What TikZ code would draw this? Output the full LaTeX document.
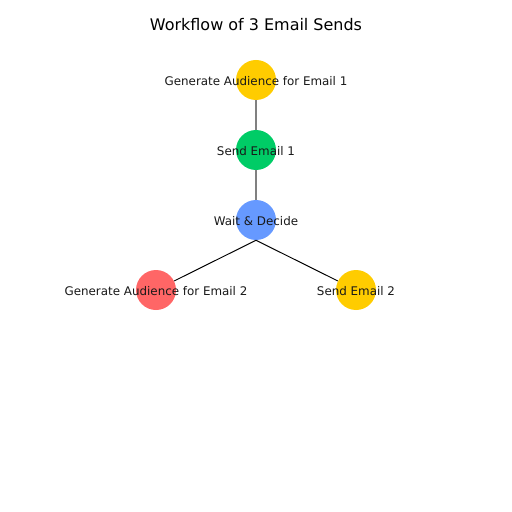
\documentclass[tikz,border=0pt]{standalone}
\usepackage{fontspec}
\setmainfont{DejaVu Sans}
\definecolor{stepyellow}{HTML}{FFCC00}
\definecolor{stepgreen}{HTML}{00CC66}
\definecolor{stepblue}{HTML}{6699FF}
\definecolor{stepred}{HTML}{FF6666}
\tikzset{
    stepdot/.style={circle, minimum size=28.8pt, inner sep=0pt},
    steptext/.style={font=\fontsize{8.56}{10}\selectfont, text=black!90, inner sep=0pt},
    grayedge/.style={draw=black!50, line width=1.1pt},
    blackedge/.style={draw=black, line width=0.7pt},
}
\begin{document}
\begin{tikzpicture}[x=0.72pt, y=-0.72pt]
\useasboundingbox (0,0) rectangle (512,512);
\node[font=\fontsize{11.5}{13}\selectfont] (title) at (256,25) {Workflow of 3 Email Sends};

\node[stepdot, fill=stepyellow] (gen1) at (256,80) {};
\node[stepdot, fill=stepgreen] (send1) at (256,150) {};
\node[stepdot, fill=stepblue] (wait) at (256,220) {};
\node[stepdot, fill=stepred] (gen2) at (156,290) {};
\node[stepdot, fill=stepyellow] (send2) at (356,290) {};

\draw[grayedge] (gen1) -- (send1);
\draw[grayedge] (send1) -- (wait);
\draw[blackedge] (wait.south) -- (gen2);
\draw[blackedge] (wait.south) -- (send2);

\node[steptext] (gen1text) at (256,81) {Generate Audience for Email 1};
\node[steptext] (send1text) at (256,151) {Send Email 1};
\node[steptext] (waittext) at (256,221) {Wait \& Decide};
\node[steptext] (gen2text) at (156,291) {Generate Audience for Email 2};
\node[steptext] (send2text) at (356,291) {Send Email 2};

\end{tikzpicture}
\end{document}
